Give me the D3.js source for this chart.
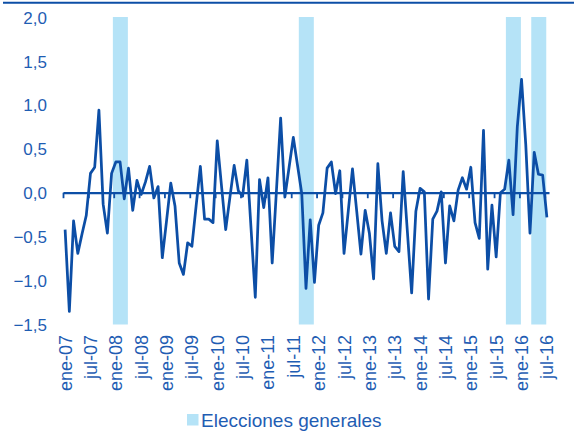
<!DOCTYPE html>
<html>
<head>
<meta charset="utf-8">
<script src="https://cdn.jsdelivr.net/npm/d3@7"></script>
<style>
  body { margin: 0; background: #fff; }
  svg { display: block; font-family: "Liberation Sans", Arial, sans-serif; }
</style>
</head>
<body>
<script>
// monthly series, ene-07 .. jul-16
var values = [
  -0.42, -1.35, -0.32, -0.69, -0.47, -0.26, 0.22, 0.29, 0.94, -0.13, -0.46, 0.22,
  0.35, 0.35, -0.07, 0.28, -0.20, 0.14, -0.02, 0.12, 0.30, -0.06, 0.07, -0.74,
  -0.32, 0.11, -0.15, -0.80, -0.93, -0.57, -0.61, -0.15, 0.30, -0.30, -0.30, -0.34,
  0.59, 0.08, -0.42, -0.05, 0.31, 0.02, -0.04, 0.37, -0.41, -1.19, 0.15, -0.17,
  0.17, -0.80, 0.02, 0.85, -0.05, 0.29, 0.63, 0.31, -0.01, -1.09, -0.31, -1.02,
  -0.37, -0.23, 0.28, 0.35, -0.01, 0.25, -0.69, -0.21, 0.27, -0.21, -0.70, -0.20,
  -0.46, -0.98, 0.33, -0.32, -0.69, -0.23, -0.61, -0.67, 0.24, -0.45, -1.14, -0.21,
  0.05, 0.01, -1.21, -0.30, -0.21, 0.01, -0.80, -0.15, -0.32, 0.03, 0.17, 0.04,
  0.29, -0.34, -0.52, 0.71, -0.87, -0.14, -0.73, 0.00, 0.04, 0.37, -0.25, 0.75,
  1.29, 0.55, -0.46, 0.46, 0.21, 0.20, -0.28
];
var months = d3.timeMonth.range(new Date(2007, 0, 1), new Date(2016, 7, 1));
var tickLabels = ['ene-07', 'jul-07', 'ene-08', 'jul-08', 'ene-09', 'jul-09', 'ene-10', 'jul-10',
  'ene-11', 'jul-11', 'ene-12', 'jul-12', 'ene-13', 'jul-13', 'ene-14', 'jul-14',
  'ene-15', 'jul-15', 'ene-16', 'jul-16'];
var elections = ['2008-03', '2011-11', '2015-12', '2016-06'];
var yTicks = [-1.5, -1, -0.5, 0, 0.5, 1, 1.5, 2];
var legendLabel = 'Elecciones generales';

(function () {
  var width = 574, height = 432;
  var plotLeft = 63, plotRight = 549, plotTop = 17, plotBottom = 324.5;
  var lineColor = '#0c4ea6', textColor = '#1f5db3', bandColor = '#b5e3f7';
  var bandBefore = 2.2, bandAfter = 1.35; // band extent in months round the election month

  var svg = d3.select('body').append('svg')
    .attr('width', width)
    .attr('height', height);

  // top rule
  svg.append('line')
    .attr('x1', 3).attr('x2', width)
    .attr('y1', 2.7).attr('y2', 2.7)
    .attr('stroke', lineColor).attr('stroke-width', 2);

  var idx = d3.range(values.length);
  var x = d3.scaleBand().domain(idx).range([plotLeft, plotRight]);
  var xs = d3.scaleLinear().domain([0, values.length]).range([plotLeft, plotRight]);
  var y = d3.scaleLinear().domain([-1.5, 2]).range([plotBottom, plotTop]);
  var fmt = d3.formatLocale({ decimal: ',', thousands: '.', grouping: [3], currency: ['', '€'] }).format('.1f');

  // election bands
  var monthKey = d3.timeFormat('%Y-%m');
  var elecIdx = elections.map(function (e) {
    return months.findIndex(function (m) { return monthKey(m) === e; });
  });
  svg.append('g').selectAll('rect').data(elecIdx).enter().append('rect')
    .attr('x', function (i) { return xs(i - bandBefore); })
    .attr('width', function (i) { return xs(i + bandAfter) - xs(i - bandBefore); })
    .attr('y', y(2))
    .attr('height', y(-1.5) - y(2))
    .attr('fill', bandColor);

  // y axis labels
  var yAxis = svg.append('g')
    .attr('transform', 'translate(' + 47 + ',0)')
    .call(d3.axisLeft(y).tickValues(yTicks).tickSize(0).tickPadding(0).tickFormat(fmt));
  yAxis.select('.domain').remove();
  yAxis.selectAll('text')
    .attr('fill', textColor)
    .style('font-size', '17px')
    .attr('dy', '0.36em');

  // x axis line and ticks at zero
  var xAxis = svg.append('g')
    .attr('transform', 'translate(0,' + y(0) + ')')
    .call(d3.axisBottom(xs).tickValues(d3.range(0, values.length, 6)).tickSizeInner(5.5).tickSizeOuter(0).tickFormat(''));
  xAxis.select('.domain').attr('stroke', lineColor).attr('stroke-width', 2.2);
  xAxis.selectAll('.tick line').attr('stroke', lineColor).attr('stroke-width', 1.8);

  // x labels
  var labelIdx = d3.range(0, values.length, 6);
  var xLab = svg.append('g')
    .attr('transform', 'translate(0,' + 335 + ')')
    .call(d3.axisBottom(x).tickValues(labelIdx).tickSize(0).tickPadding(0)
      .tickFormat(function (d, i) { return tickLabels[i]; }));
  xLab.select('.domain').remove();
  xLab.selectAll('text')
    .attr('fill', textColor)
    .style('font-size', '18px')
    .attr('text-anchor', 'end')
    .attr('transform', 'rotate(-90)')
    .attr('x', 0).attr('y', 0)
    .attr('dy', '0.36em');

  // series
  var line = d3.line()
    .x(function (d, i) { return x(i) + x.bandwidth() / 2; })
    .y(function (d) { return y(d); });
  svg.append('path')
    .datum(values)
    .attr('d', line)
    .attr('fill', 'none')
    .attr('stroke', lineColor)
    .attr('stroke-width', 2.75)
    .attr('stroke-linejoin', 'round');

  // legend
  var legend = svg.append('g').attr('transform', 'translate(187,414)');
  legend.append('rect').attr('width', 11.5).attr('height', 11.5).attr('fill', bandColor);
  legend.append('text')
    .attr('x', 14).attr('y', 12.5)
    .attr('fill', textColor)
    .style('font-size', '19px')
    .text(legendLabel);
})();
</script>
</body>
</html>
